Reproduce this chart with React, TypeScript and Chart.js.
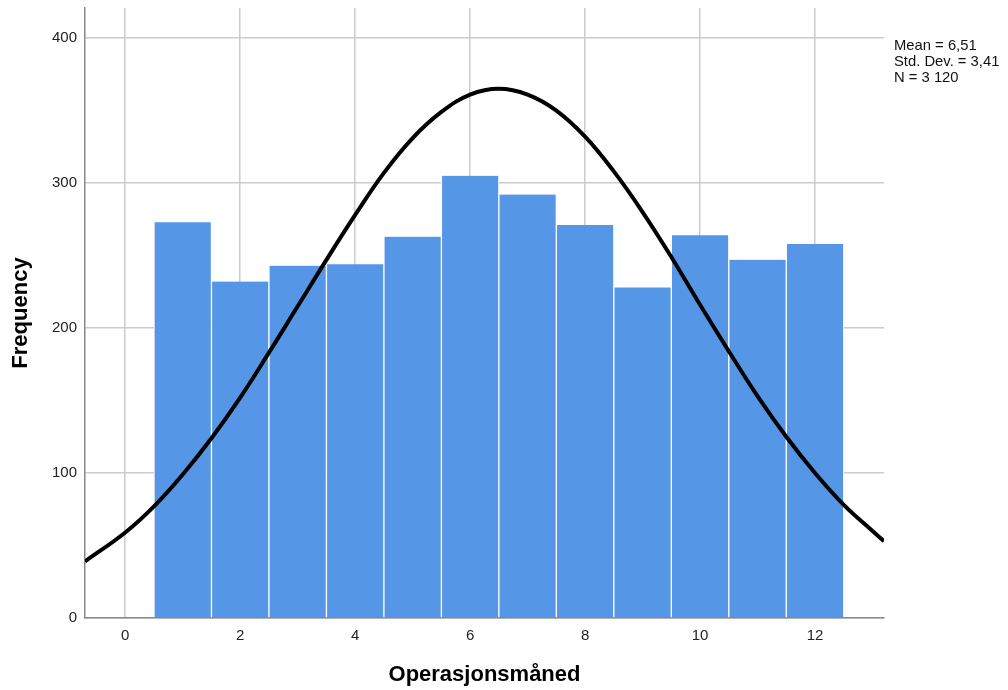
import React, { useEffect, useRef } from "react";
import { Chart, registerables } from "chart.js";

Chart.register(...registerables);

const months = [1, 2, 3, 4, 5, 6, 7, 8, 9, 10, 11, 12];
const frequencies = [273, 232, 243, 244, 263, 305, 292, 271, 228, 264, 247, 258];

const curveX = [-0.7, 0, 0.5, 1, 1.5, 2, 2.5, 3, 3.5, 4, 4.5, 5, 5.5, 6, 6.5, 7, 7.5, 8, 8.5, 9, 9.5, 10, 10.5, 11, 11.5, 12, 12.5, 13, 13.2];
const curveY = [39, 59, 77, 99, 124, 152, 183, 215, 247, 278, 307, 331, 349, 361, 365, 361, 350, 332, 308, 280, 249, 216, 184, 153, 125, 100, 78, 60, 53];

const xTicks = [0, 2, 4, 6, 8, 10, 12];
const yTicks = [0, 100, 200, 300, 400];
const statsLines = ["Mean = 6,51", "Std. Dev. = 3,41", "N = 3 120"];

const FONT = "'Liberation Sans', Arial, sans-serif";

const statsPlugin = {
  id: "statsText",
  afterDraw(chart: any) {
    const ctx = chart.ctx;
    ctx.save();
    ctx.font = `14.8px ${FONT}`;
    ctx.fillStyle = "#111";
    ctx.textAlign = "left";
    ctx.textBaseline = "alphabetic";
    statsLines.forEach((t, i) => {
      ctx.fillText(t, 894, 50 + i * 15.8);
    });
    ctx.restore();
  },
};

export default function App() {
  const ref = useRef<HTMLCanvasElement>(null);

  useEffect(() => {
    if (!ref.current) return;
    const chart = new Chart(ref.current, {
      type: "bar",
      data: {
        datasets: [
          {
            type: "line",
            data: curveX.map((x, i) => ({ x, y: curveY[i] })),
            borderColor: "#000",
            borderWidth: 4,
            pointRadius: 0,
            tension: 0.4,
            fill: false,
            order: 1,
          } as any,
          {
            type: "bar",
            data: months.map((m, i) => ({ x: m, y: frequencies[i] })),
            backgroundColor: "#5596e6",
            borderColor: "#ffffff",
            borderWidth: { left: 1, right: 1, top: 0, bottom: 0 },
            borderSkipped: false,
            barPercentage: 1,
            categoryPercentage: 1,
            order: 2,
          } as any,
        ],
      },
      options: {
        responsive: false,
        animation: false,
        devicePixelRatio: 1,
        layout: { padding: { top: 8, right: 124, left: 0, bottom: 0 } },
        plugins: { legend: { display: false }, tooltip: { enabled: false } },
        scales: {
          x: {
            type: "linear",
            min: -0.7,
            max: 13.2,
            offset: false,
            afterBuildTicks: (s: any) => {
              s.ticks = xTicks.map((v) => ({ value: v }));
            },
            afterFit: (s: any) => {
              s.height = 72;
              s.paddingLeft = 0;
              s.paddingRight = 0;
            },
            grid: { color: "#cccccc", lineWidth: 1.5, drawTicks: false, offset: false },
            border: { color: "#888888", width: 1.5 },
            ticks: {
              padding: 9,
              color: "#222",
              autoSkip: false,
              maxRotation: 0,
              font: { size: 15, family: FONT },
            },
            title: {
              display: true,
              text: "Operasjonsmåned",
              color: "#000",
              font: { size: 22, weight: "bold", family: FONT },
              padding: { top: 0, bottom: 2 },
            },
          },
          y: {
            type: "linear",
            min: 0,
            max: 420.7,
            afterBuildTicks: (s: any) => {
              s.ticks = yTicks.map((v) => ({ value: v }));
            },
            afterFit: (s: any) => {
              s.width = 85;
              s.paddingTop = 0;
              s.paddingBottom = 0;
            },
            grid: { color: "#cccccc", lineWidth: 1.5, drawTicks: false },
            border: { color: "#888888", width: 1.5 },
            ticks: {
              padding: 8,
              color: "#222",
              font: { size: 15, family: FONT },
            },
            title: {
              display: true,
              text: "Frequency",
              color: "#000",
              font: { size: 22, weight: "bold", family: FONT },
              padding: { top: 8, bottom: 0 },
            },
          },
        },
      } as any,
      plugins: [statsPlugin],
    });
    return () => chart.destroy();
  }, []);

  return (
    <div style={{ position: "absolute", left: 0, top: 0, width: 1008, height: 690, background: "#fff" }}>
      <canvas ref={ref} width={1008} height={690} style={{ display: "block", width: 1008, height: 690 }} />
    </div>
  );
}
